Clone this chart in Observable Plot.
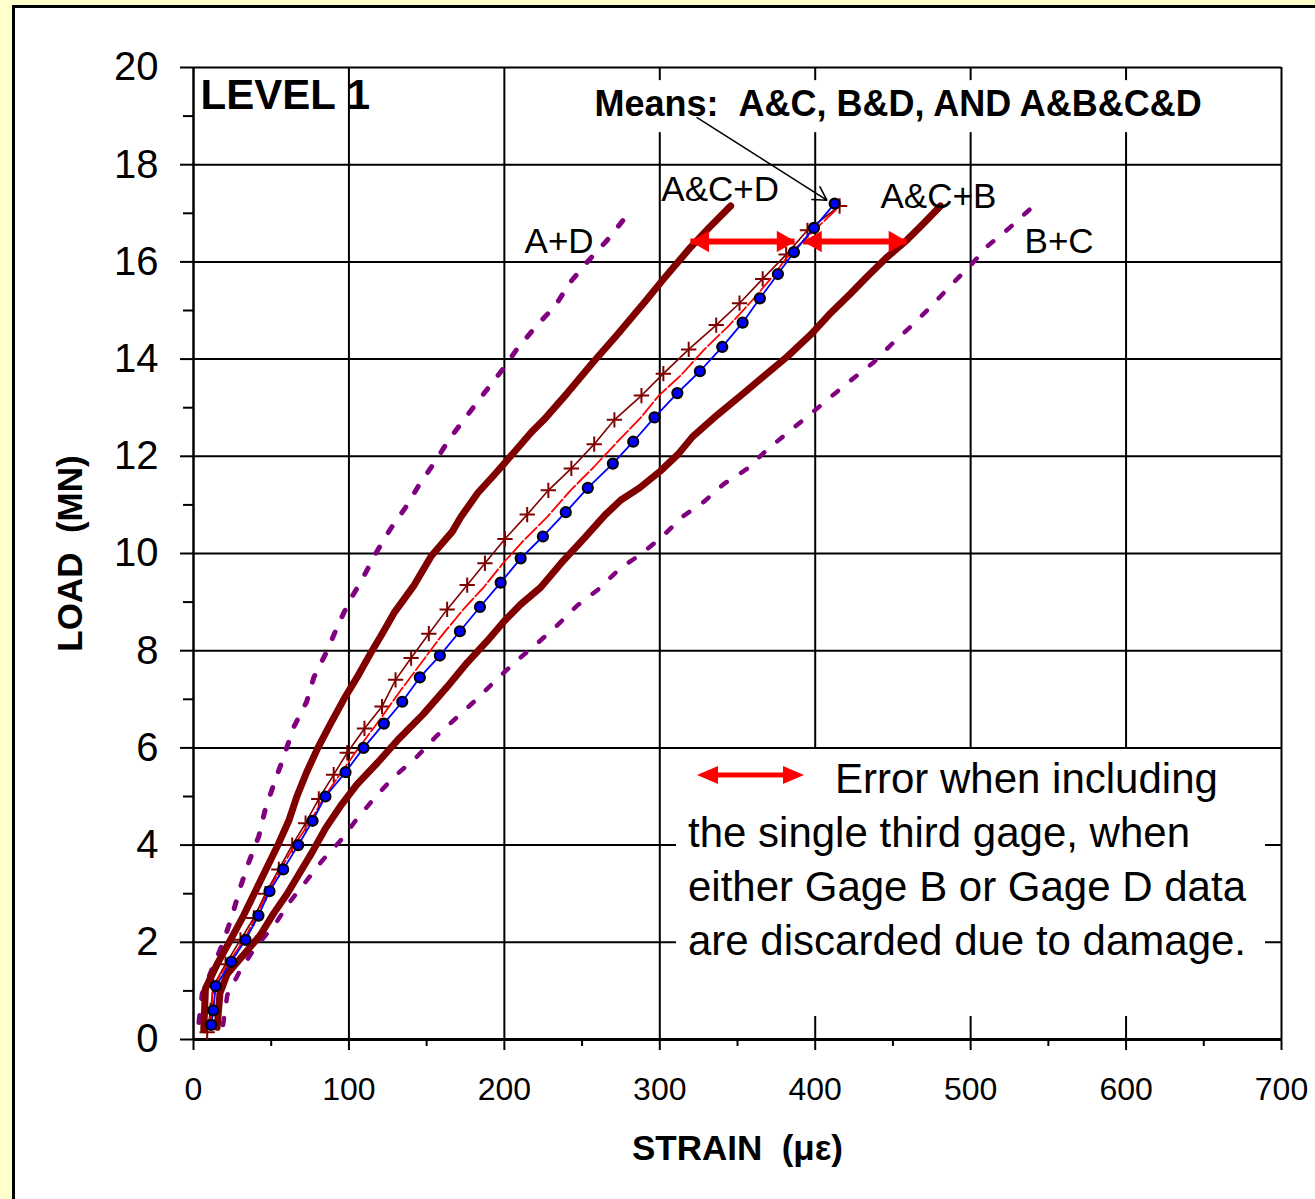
<!DOCTYPE html>
<html><head><meta charset="utf-8">
<script src="https://cdn.jsdelivr.net/npm/d3@7"></script>
<script src="https://cdn.jsdelivr.net/npm/@observablehq/plot@0.6"></script>
<style>
html,body{margin:0;padding:0;background:#FFFFCC;width:1315px;height:1199px;overflow:hidden;}
#panel{position:absolute;left:12px;top:5px;width:1320px;height:1210px;background:#fff;border-left:3px solid #000;border-top:3px solid #000;}
#chart{position:absolute;left:0;top:0;}
#legend{position:absolute;left:676px;top:749px;width:589px;height:267px;background:#fff;font-family:"Liberation Sans",Arimo,Arial,sans-serif;font-size:42px;color:#000;}
#legend .txt{position:absolute;left:12px;top:3px;line-height:54px;white-space:nowrap;}
#legend svg{position:absolute;left:21px;top:14px;}
</style></head>
<body>
<div id="panel"></div>
<div id="chart"></div>
<div id="legend">
  <svg width="108" height="24" viewBox="0 0 108 24">
    <rect x="14" y="9.5" width="80" height="5" fill="#ff0000"/>
    <polygon points="0,12 21,3 21,21" fill="#ff0000"/>
    <polygon points="107,12 86,3 86,21" fill="#ff0000"/>
  </svg>
  <div class="txt"><span style="padding-left:147px">Error when including</span><br>the single third gage, when<br>either Gage B or Gage D data<br>are discarded due to damage.</div>
</div>
<script>
// Mean of gages B & D (blue, dots)
const loadBD   = [0.3,0.6,1.1,1.6,2.05,2.55,3.05,3.5,4.0,4.5,5.0,5.5,6.0,6.5,6.95,7.45,7.9,8.4,8.9,9.4,9.9,10.35,10.85,11.35,11.85,12.3,12.8,13.3,13.75,14.25,14.75,15.25,15.75,16.2,16.7,17.2];
const strainBD = [11.4,12.7,14.3,24.3,33.5,41.8,48.9,57.7,67.4,76.6,84.9,97.8,109.4,122.5,134.3,145.6,158.5,171.4,184.3,197.6,210.5,224.8,239.5,253.7,269.8,282.9,296.6,311.3,325.8,340.2,353.3,364.4,376.0,386.3,399.2,412.5];
// Mean of gages A & C (dark red, plus)
const loadAC   = [0.15,0.6,1.1,1.55,2.05,2.5,3.0,3.5,4.0,4.45,4.95,5.45,5.9,6.4,6.85,7.4,7.85,8.35,8.85,9.35,9.8,10.3,10.8,11.3,11.75,12.25,12.75,13.25,13.7,14.2,14.7,15.15,15.65,16.15,16.65,17.15];
const strainAC = [8.8,11,12.7,20.6,30.2,38.8,46.3,54.9,63.5,72.1,80.6,90.2,98.9,110,121.3,130,140,151.4,163.2,176.1,187.5,200.4,214.7,228.3,243.1,257.8,270.8,288.2,302.3,318.6,336.3,351.3,366.2,381.3,395,415.7];
// Mean of A, B, C & D (red)
const loadAll   = [0.25,0.6,1.08,1.59,2.04,2.55,3.05,3.51,4.03,4.47,4.97,5.47,5.95,6.6,7.18,7.73,8.28,8.86,9.31,9.82,10.27,10.75,11.3,11.78,12.29,12.79,13.25,13.66,14.19,14.69,15.17,15.65,16.1,16.44,17.16];
const strainAll = [9.5,11.8,12.3,22.7,32.4,40.5,47.8,56.3,65.6,74.8,83.8,94.5,105.2,120.3,133.2,146.1,158.9,173.9,186.8,199.7,212.5,227.5,242.6,257.6,272.5,287.6,299.4,313.4,328.4,344.5,358.4,371.3,382,392.5,416.2];
// A&C + D
const loadACD   = [0.2,1.05,1.55,2.05,2.55,3.05,3.55,4.05,4.5,5.0,5.5,6.0,6.5,7.0,7.45,7.95,8.35,8.8,9.35,9.95,10.45,10.75,11.25,11.6,12.0,12.5,12.75,13.3,13.95,14.5,15.2,15.65,16.3,16.7,17.15];
const strainACD = [6.6,7.7,15.2,23.8,32.2,39.8,47.4,55,61.3,66.5,72.8,80,88.2,96.7,105.2,114,121.4,129.5,142,153,166.5,172,183,193,204,217.5,225.4,240.5,257.5,272.6,291,302.5,319.8,331.6,345.6];
// A&C + B
const loadACB   = [0.25,0.95,1.35,1.75,2.15,2.6,3.0,3.4,3.85,4.35,4.8,5.25,5.7,6.2,6.7,7.25,7.75,8.2,8.6,8.95,9.3,9.8,10.3,10.8,11.1,11.35,11.7,12.05,12.4,12.85,13.3,13.65,14.05,14.5,14.95,15.35,15.7,16.1,16.45,16.8,17.15];
const strainACB = [15.2,17,21.7,32.4,43,51.7,60.3,67.8,76.3,85,94.5,105.2,118.5,132.5,148,163,176,189,199.7,210.4,223.3,236.5,251,265,275,287,300.5,312,321,337,354,367,382,397,410,422.8,433.5,446.3,459,470,480.6];
// A + D
const loadAD   = [0.35,0.94,1.45,2.0,2.55,3.1,3.65,4.18,4.75,5.29,5.86,6.43,6.94,7.45,8.0,8.52,9.0,9.51,10.03,10.49,10.95,11.41,11.88,12.39,12.84,13.29,13.77,14.21,14.66,15.1,15.58,16.03,16.44,17.0];
const strainAD = [3.5,5.6,12,19.1,24.9,29.8,35.6,42,46.3,52.1,58.5,64.5,72.7,77.4,86,92.9,100,109.2,117.8,126.4,136.5,145.1,155.2,165.4,176.1,186.8,198.5,208.2,220,232.8,242.4,254.2,266,280];
// B + C
const loadBC   = [0.3,0.91,1.42,1.9,2.38,2.79,3.24,3.68,4.09,4.54,4.99,5.40,5.81,6.22,6.6,7.01,7.42,7.8,8.18,8.52,8.93,9.27,9.68,9.99,10.34,10.75,11.06,11.43,11.74,12.12,12.5,12.87,13.22,13.56,13.93,14.31,14.69,15.1,15.51,15.93,16.34,16.68,17.18];
const strainBC = [19,21.7,30,39.9,52.7,61,72,82.8,94.5,105.2,117,128.9,143.5,155.6,168.5,182.5,195.4,208.2,222.2,234,246.9,260.8,274,288,301.4,314.3,328.2,341.1,356.1,368.5,382.8,397,409.9,422.8,437.5,449.3,462.2,475,487,500,511.4,524.3,541.5];
// error arrows
const errLoad = [16.42, 16.42];
const errFrom = [320, 392.5];
const errTo   = [387, 459];
// ticks
const xMajor = [0,100,200,300,400,500,600,700];
const xMinor = [50,150,250,350,450,550,650];
const yMajor = [0,2,4,6,8,10,12,14,16,18,20];
const yMinor = [1,3,5,7,9,11,13,15,17,19];
// annotations
const noteText   = ["LEVEL 1", "Means:\u00a0\u00a0A&C, B&D, AND A&B&C&D", "A&C+D", "A&C+B", "A+D", "B+C"];
const noteStrain = [4.5, 258, 301, 442, 213, 534.7];
const noteLoad   = [19.42, 19.24, 17.49, 17.33, 16.42, 16.42];
const meansBox = {x1: 255.5, x2: 654, y1: 18.66, y2: 19.73};
const pointer = {x1: 324, y1: 18.97, x2: 407.5, y2: 17.27};

const rows = (xs, ys) => xs.map((x, i) => ({strain: x, load: ys[i]}));
const BD = rows(strainBD, loadBD), AC = rows(strainAC, loadAC), ALL = rows(strainAll, loadAll);
const ACD = rows(strainACD, loadACD), ACB = rows(strainACB, loadACB);
const AD = rows(strainAD, loadAD), BC = rows(strainBC, loadBC);
const err = errLoad.map((l, i) => ({load: l, from: errFrom[i], to: errTo[i]}));
const notes = noteText.map((t, i) => ({text: t, strain: noteStrain[i], load: noteLoad[i], i}));
const boldNotes = notes.filter(d => d.i < 2);
const plainNotes = notes.filter(d => d.i >= 2);

const font = '"Liberation Sans", Arimo, Arial, sans-serif';
const xy = {x: "strain", y: "load"};

const chart = Plot.plot({
  width: 1315, height: 1199,
  marginLeft: 193, marginRight: 34, marginTop: 67, marginBottom: 160,
  x: {domain: [0, 700], label: null},
  y: {domain: [0, 20], label: null},
  style: {fontFamily: font, background: "transparent", overflow: "visible", color: "#000"},
  marks: [
    Plot.gridX(xMajor.filter(d => d > 0), {stroke: "#000", strokeOpacity: 1, strokeWidth: 2}),
    Plot.gridY(yMajor.filter(d => d > 0), {stroke: "#000", strokeOpacity: 1, strokeWidth: 2}),
    Plot.rect([meansBox], {x1: "x1", x2: "x2", y1: "y1", y2: "y2", fill: "#fff"}),
    Plot.axisX(xMajor, {tickSize: 11, tickPadding: 27, fontSize: 32, strokeWidth: 2, label: null}),
    Plot.axisX(xMinor, {tickSize: 7, tickFormat: () => "", strokeWidth: 2, label: null}),
    Plot.axisY(yMajor, {tickSize: 13, tickPadding: 22, fontSize: 40, strokeWidth: 2, label: null}),
    Plot.axisY(yMinor, {tickSize: 10, tickFormat: () => "", strokeWidth: 2, label: null}),
    Plot.ruleX([0], {stroke: "#000", strokeWidth: 2.5}),
    Plot.ruleY([0], {stroke: "#000", strokeWidth: 3}),
    // outer gage pairs
    Plot.line(AD, {...xy, stroke: "#800080", strokeWidth: 5, strokeDasharray: "7,17"}),
    Plot.line(BC, {...xy, stroke: "#800080", strokeWidth: 4.5, strokeDasharray: "7,17"}),
    Plot.line(ACD, {...xy, stroke: "#800000", strokeWidth: 7, strokeLinejoin: "round"}),
    Plot.line(ACB, {...xy, stroke: "#800000", strokeWidth: 7, strokeLinejoin: "round"}),
    // error arrows
    Plot.ruleY(err, {y: "load", x1: "from", x2: "to", stroke: "#ff0000", strokeWidth: 6}),
    Plot.dot(err, {x: "from", y: "load", symbol: "triangle", rotate: -90, r: 8, fill: "#ff0000", stroke: "none", dx: 12}),
    Plot.dot(err, {x: "to", y: "load", symbol: "triangle", rotate: 90, r: 8, fill: "#ff0000", stroke: "none", dx: -12}),
    // means
    Plot.line(AC, {...xy, stroke: "#800000", strokeWidth: 1.6}),
    Plot.dot(AC, {...xy, symbol: "plus", r: 5, stroke: "#800000", strokeWidth: 2}),
    Plot.line(ALL, {...xy, stroke: "#ff0000", strokeWidth: 1.8, strokeDasharray: "16,3"}),
    Plot.line(BD, {...xy, stroke: "#0000ff", strokeWidth: 1.8}),
    Plot.dot(BD, {...xy, r: 5, fill: "#0000ff", stroke: "#000", strokeWidth: 2.2}),
    // annotations
    Plot.arrow([pointer], {x1: "x1", y1: "y1", x2: "x2", y2: "y2", stroke: "#000", strokeWidth: 1.6, headLength: 14}),
    Plot.text(boldNotes, {...xy, text: "text", textAnchor: "start", lineAnchor: "middle", fontWeight: "bold", fontSize: d => d.i === 0 ? 42 : 36, fill: "#000"}),
    Plot.text(plainNotes, {...xy, text: "text", textAnchor: "start", lineAnchor: "middle", fontSize: 35, fill: "#000"}),
    Plot.text(["LOAD\u00a0\u00a0(MN)"], {text: d => d, frameAnchor: "left", dx: -123, rotate: -90, textAnchor: "middle", lineAnchor: "middle", fontSize: 35, fontWeight: "bold", fill: "#000"}),
    Plot.text(["STRAIN\u00a0\u00a0(\u03bc\u03b5)"], {text: d => d, frameAnchor: "bottom", dy: 109, textAnchor: "middle", lineAnchor: "middle", fontSize: 35, fontWeight: "bold", fill: "#000"})
  ]
});
document.getElementById("chart").appendChild(chart);
</script>
</body></html>
